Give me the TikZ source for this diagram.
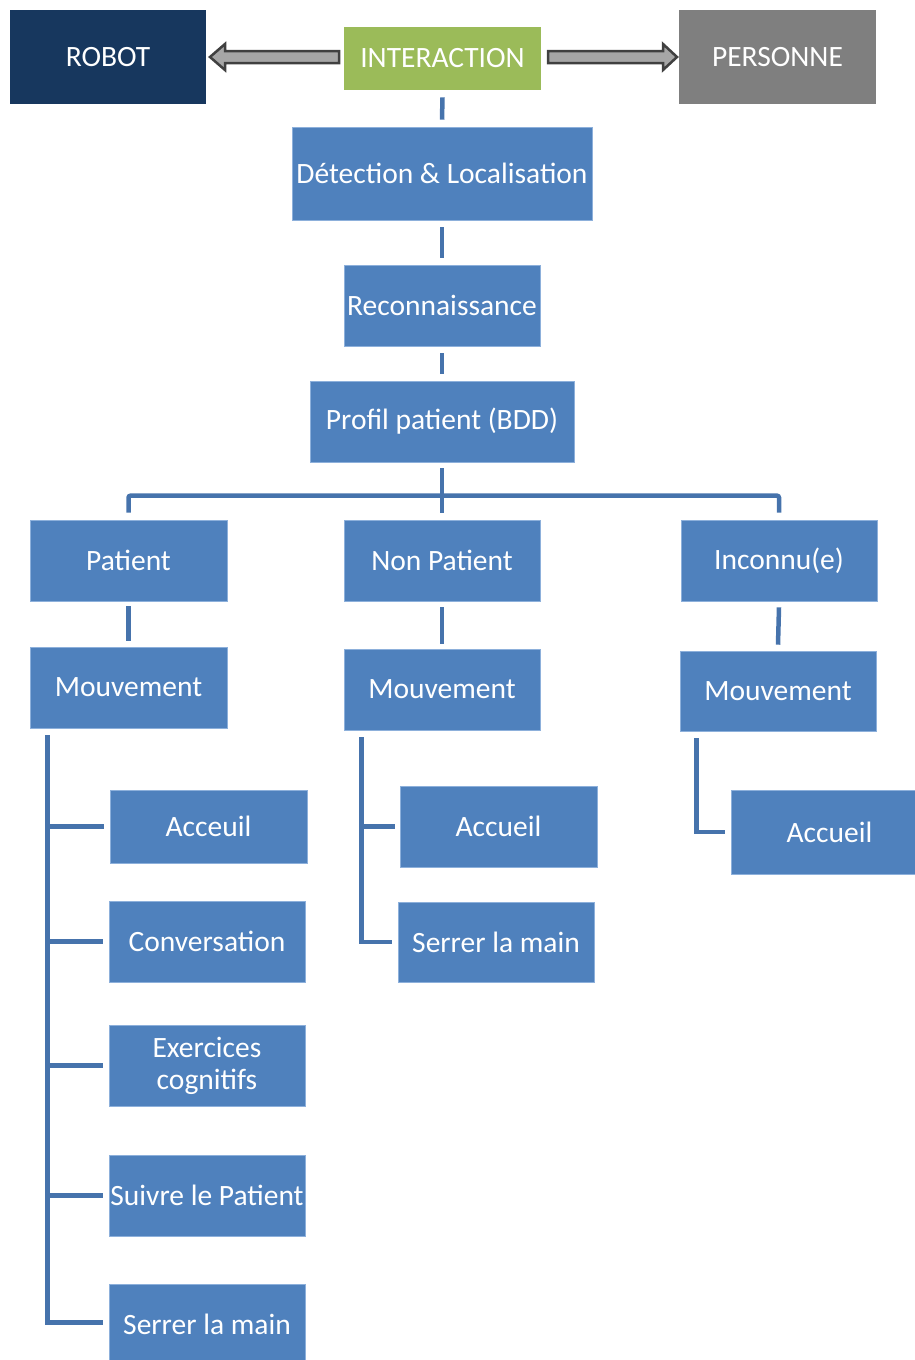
\documentclass[tikz,border=0pt]{standalone}
\usepackage{fontspec}
\setmainfont{Carlito}
\usetikzlibrary{calc}
\definecolor{boxblue}{HTML}{4F81BD}
\definecolor{boxedge}{HTML}{8DB0DB}
\definecolor{linkblue}{HTML}{4673AC}
\definecolor{navy}{HTML}{17375E}
\definecolor{olive}{HTML}{9BBB59}
\definecolor{greybox}{HTML}{7F7F7F}
\definecolor{arrowfill}{HTML}{A6A6A6}
\definecolor{arrowedge}{HTML}{404040}
\tikzset{
  card/.style={rectangle, fill=boxblue, draw=boxedge, line width=0.6pt,
    text=white, inner sep=0pt, align=center,
    font=\fontsize{29.5}{32}\selectfont},
  link/.style={draw=linkblue, line width=4.5pt},
  blockarrow/.style={fill=arrowfill, draw=arrowedge, line width=2.5pt, line join=miter}
}
% \cardat{name}{x1}{y1}{x2}{y2}{style}{text}
\newcommand{\cardat}[7]{%
  \node[card, #6, minimum width={(#4-#2)*1pt}, minimum height={(#5-#3)*1pt}]
    (#1) at ({(#2+#4)/2},{(#3+#5)/2}) {#7};}
\begin{document}
\begin{tikzpicture}[x=1pt,y=-1pt]
\useasboundingbox (0,0) rectangle (915,1360);

% top row
\cardat{robot}{10}{10}{206}{104}{fill=navy, draw=none}{ROBOT}
\cardat{inter}{344}{27}{541}{90}{fill=olive, draw=none}{INTERACTION}
\cardat{pers}{679}{10}{876}{104}{fill=greybox, draw=none}{PERSONNE}

% block arrows from INTERACTION to both sides
\draw[blockarrow] (339,51) -- (225,51) -- (225,44) -- (210,57) -- (225,70)
  -- (225,63) -- (339,63) -- cycle;
\draw[blockarrow] (548,51) -- (663,51) -- (663,44) -- (677,57) -- (663,70)
  -- (663,63) -- (548,63) -- cycle;

% main chain
\cardat{det}{292}{127}{592}{220}{}{Détection \& Localisation}
\cardat{rec}{344}{265}{540}{346}{}{Reconnaissance}
\cardat{prof}{310}{381}{574}{462}{}{Profil patient (BDD)}

\draw[link] ([yshift=-7pt]inter.south) -- ([yshift=7pt]det.north);
\draw[link] ([yshift=-7pt]det.south) -- ([yshift=7pt]rec.north);
\draw[link] ([yshift=-7pt]rec.south) -- ([yshift=7pt]prof.north);

% categories
\cardat{pat}{30}{520}{227}{601}{}{Patient}
\cardat{np}{344}{520}{540}{601}{}{Non Patient}
\cardat{inc}{681}{520}{877}{601}{}{Inconnu(e)}

\draw[link, rounded corners=2pt] ([yshift=7pt]pat.north) |- ([yshift=24pt]np.north)
  -| ([yshift=7pt]inc.north);
\draw[link] ([yshift=-6pt]prof.south) -- ([yshift=7pt]np.north);

% movement boxes
\cardat{mv1}{30}{647}{227}{728}{}{Mouvement}
\cardat{mv2}{344}{649}{540}{730}{}{Mouvement}
\cardat{mv3}{680}{651}{876}{731}{}{Mouvement}

\draw[link] ([yshift=-5pt]pat.south) -- ([yshift=6pt]mv1.north);
\draw[link] ([yshift=-6pt]np.south) -- ([yshift=5pt]mv2.north);
\draw[link] ([yshift=-6pt]inc.south) -- ([yshift=6pt]mv3.north);

% patient actions
\cardat{ac1}{110}{790}{307}{863}{}{Acceuil}
\cardat{conv}{109}{901}{305}{982}{}{Conversation}
\cardat{exer}{109}{1025}{305}{1106}{}{Exercices\\cognitifs}
\cardat{suiv}{109}{1155}{305}{1236}{}{Suivre le Patient}
\cardat{sm1}{109}{1284}{305}{1365}{}{Serrer la main}

\coordinate (t1) at ([xshift=18pt,yshift=-7pt]mv1.south west);
\draw[link] (t1) |- ([xshift=-6pt]ac1.west);
\draw[link] (t1) |- ([xshift=-6pt]conv.west);
\draw[link] (t1) |- ([xshift=-6pt]exer.west);
\draw[link] (t1) |- ([xshift=-6pt]suiv.west);
\draw[link] (t1) |- ([xshift=-6pt,yshift=2pt]sm1.west);

% non-patient actions
\cardat{ac2}{400}{786}{597}{867}{}{Accueil}
\cardat{sm2}{398}{902}{594}{982}{}{Serrer la main}

\coordinate (t2) at ([xshift=18pt,yshift=-7pt]mv2.south west);
\draw[link] (t2) |- ([xshift=-5pt]ac2.west);
\draw[link] (t2) |- ([xshift=-6pt]sm2.west);

% unknown-person action
\cardat{ac3}{731}{790}{928}{874}{}{Accueil}

\coordinate (t3) at ([xshift=17pt,yshift=-7pt]mv3.south west);
\draw[link] (t3) |- ([xshift=-6pt]ac3.west);
\end{tikzpicture}
\end{document}
